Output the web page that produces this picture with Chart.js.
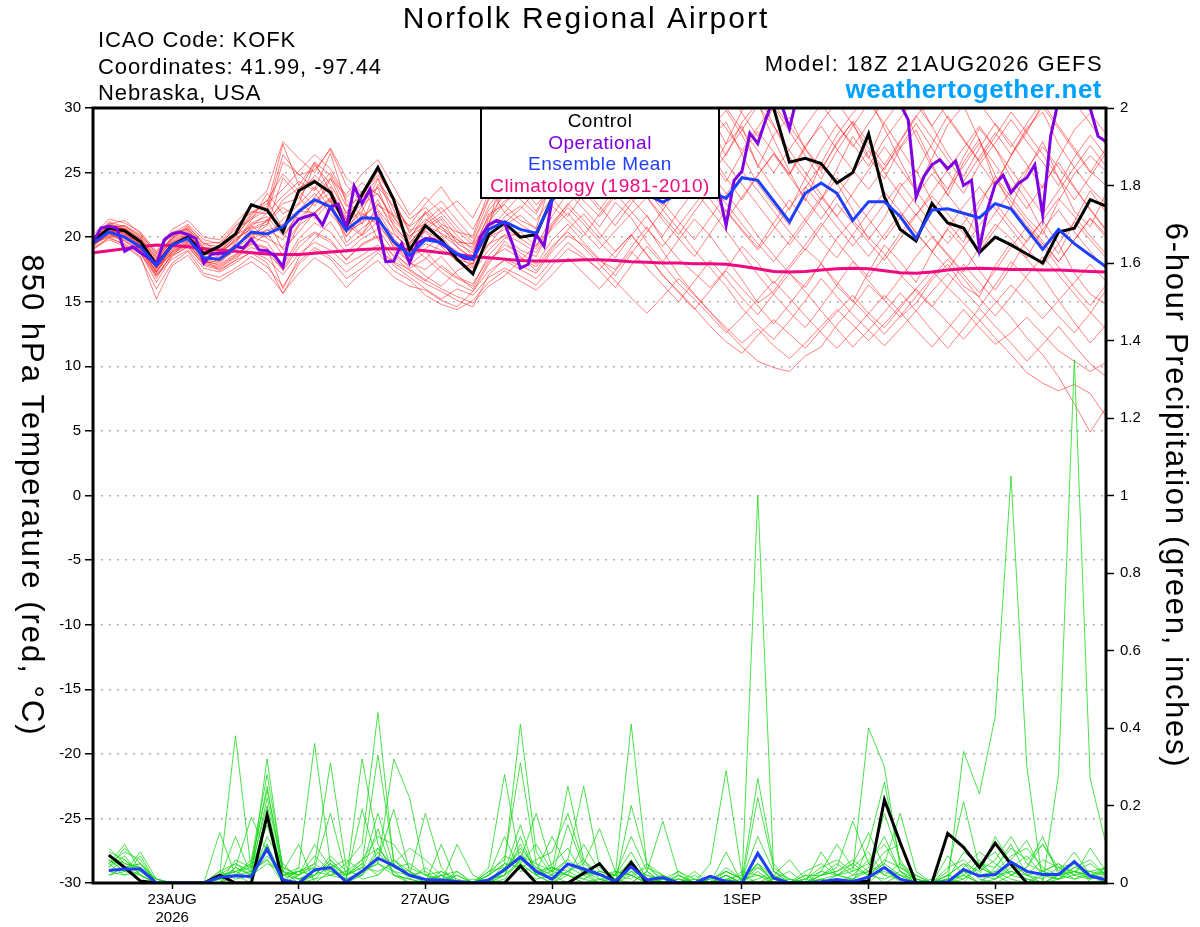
<!DOCTYPE html>
<html>
<head>
<meta charset="utf-8">
<script src="https://cdn.jsdelivr.net/npm/chart.js@4.4.1/dist/chart.umd.min.js"></script>
<style>
  html, body { margin: 0; padding: 0; background: #fff; }
  #wrap { width: 1200px; height: 927px; }
</style>
</head>
<body>
<div id="wrap"><canvas id="chart"></canvas></div>
<script>
// forecast hours from the 18Z 21AUG2026 run
const tempHours = Array.from({length: 65}, (_, i) => i * 6);
const operHours = Array.from({length: 129}, (_, i) => i * 3);
const precipHours = Array.from({length: 64}, (_, i) => (i + 1) * 6);

const tickHours = [30, 78, 126, 174, 246, 294, 342];
const tickLabels = [['23AUG', '2026'], '25AUG', '27AUG', '29AUG', '1SEP', '3SEP', '5SEP'];
const precipTickLabels = ['0', '0.2', '0.4', '0.6', '0.8', '1', '1.2', '1.4', '1.6', '1.8', '2'];

const infoLines = ['ICAO Code: KOFK', 'Coordinates: 41.99, -97.44', 'Nebraska, USA'];
const legendItems = ['Control', 'Operational', 'Ensemble Mean', 'Climatology (1981-2010)'];

// 850 hPa temperature, 6-hourly
const controlTemp = [
  19.65, 20.7, 20.5, 19.65, 17.85, 19.4, 20.0, 18.7, 19.3, 20.25, 22.5, 22.1, 20.4,
  23.6, 24.3, 23.45, 20.8, 23.3, 25.4, 22.9, 19.0, 20.9, 19.8, 18.3, 17.15, 20.2,
  21.1, 20.0, 20.2, 23.0, 25.5, 26.5, 27.0, 26.5, 27.5, 28.0, 27.0, 28.5, 29.0,
  30.5, 31.5, 32.0, 31.0, 30.0, 25.8, 26.1, 25.7, 24.2, 25.0, 28.0, 23.1, 20.6,
  19.7, 22.6, 21.1, 20.7, 18.8, 20.0, 19.4, 18.7, 18.0, 20.4, 20.7, 22.9, 22.4
];
const meanTemp = [
  19.55, 20.4, 20.0, 19.25, 17.8, 19.4, 19.9, 18.4, 18.3, 19.25, 20.4, 20.25, 20.8,
  22.0, 22.9, 22.35, 20.55, 21.5, 21.45, 19.65, 18.6, 19.8, 19.6, 18.7, 18.3, 20.6,
  21.2, 20.6, 20.3, 22.9, 23.8, 24.2, 24.0, 23.5, 23.4, 23.3, 22.7, 23.4, 23.8,
  23.5, 23.0, 24.6, 24.4, 22.8, 21.2, 23.4, 24.2, 23.4, 21.3, 22.75, 22.75, 21.6,
  19.9, 22.1, 22.2, 21.85, 21.5, 22.6, 22.2, 20.6, 19.05, 20.6, 19.5, 18.6, 17.7
];
const climoTemp = [
  18.8, 18.95, 19.1, 19.25, 19.4, 19.35, 19.25, 19.1, 19.0, 18.9, 18.8, 18.7, 18.65,
  18.65, 18.75, 18.85, 18.95, 19.05, 19.1, 19.1, 19.05, 18.95, 18.8, 18.65, 18.5, 18.4,
  18.3, 18.2, 18.15, 18.15, 18.2, 18.25, 18.25, 18.2, 18.1, 18.05, 18.0, 18.0, 17.95,
  17.95, 17.9, 17.75, 17.55, 17.35, 17.3, 17.35, 17.45, 17.55, 17.6, 17.55, 17.4, 17.25,
  17.2, 17.3, 17.45, 17.55, 17.6, 17.55, 17.5, 17.5, 17.45, 17.45, 17.4, 17.35, 17.3
];
// operational run, 3-hourly
const operTemp = [
  19.65, 20.7, 20.85, 20.7, 18.9, 19.25, 18.8, 18.4, 17.85, 19.8, 20.25, 20.4, 20.2, 19.9, 18.0,
  18.7, 18.75, 18.75, 19.3, 19.15, 19.85, 19.0, 18.95, 18.55, 17.7, 20.7, 21.4, 21.6, 21.8, 20.95,
  22.35, 22.55, 20.7, 23.95, 22.6, 23.7, 21.0, 18.1, 18.15, 19.5, 18.0, 19.55, 19.9, 19.85, 19.5,
  19.1, 18.7, 18.35, 18.3, 20.05, 20.95, 21.3, 21.1, 19.5, 17.6, 17.9, 20.2, 19.3, 22.9,
  24.5, 25.5, 26.0, 26.5, 27.0, 26.5, 26.0, 26.5, 27.0, 27.5, 27.0, 26.5, 26.0, 25.5, 25.5,
  26.0, 25.5, 25.0, 24.5, 24.0,
  23.65, 20.9, 24.4, 25.1, 28.05, 27.25, 29.1, 30.8, 30.3, 28.4, 31.0, 31.5, 32.0, 31.8, 32.2,
  31.5, 31.0, 31.6, 32.0, 31.4, 30.9, 31.2, 30.8, 30.3, 29.1,
  23.1, 24.7, 25.6, 26.0, 25.3, 25.9, 24.0, 24.4, 19.1, 22.1, 24.1, 24.8, 23.45, 24.2, 24.6,
  25.6, 21.7, 27.8, 30.6, 31.5, 31.2, 30.7, 30.0, 27.8, 27.4
];
// ensemble members, 6-hourly
const memberTemps = [
  [19.8,20.9,20.6,19.5,18.2,19.9,20.6,19.0,18.8,20.1,21.5,22.4,27.2,
   24.0,25.8,23.5,21.4,23.0,24.6,22.1,19.5,20.5,19.7,18.9,17.9,21.5,
   22.8,23.5,24.9,26.3,27.8,28.4,29.6,28.0,30.5,29.2,27.1,28.8,30.9,
   29.5,27.2,28.6,25.4,27.9,29.3,26.8,25.1,27.4,28.9,26.2,24.5,26.9,
   28.3,25.7,23.2,25.8,27.6,24.1,26.3,28.5,29.7,27.2,25.4,23.8,22.6],
  [19.3,20.2,19.8,19.0,17.1,18.6,19.2,17.9,17.6,18.4,19.2,18.8,17.5,
   19.6,20.4,19.8,18.2,19.5,20.1,18.0,17.2,16.4,15.8,15.1,14.6,17.1,
   18.3,17.8,17.2,18.9,20.1,19.4,18.2,17.5,19.2,20.8,18.9,17.1,15.6,
   14.2,12.8,11.5,10.4,9.9,9.6,10.8,11.5,13.2,14.6,16.3,15.1,13.8,
   14.9,16.7,17.9,16.2,15.4,17.8,19.6,18.3,16.9,15.1,13.4,11.8,13.2],
  [19.7,20.5,20.3,19.6,17.5,19.3,20.3,18.8,18.6,19.9,20.6,21.0,22.9,
   23.8,24.5,22.7,20.1,21.3,22.9,20.4,18.9,20.6,21.4,19.5,18.8,21.8,
   22.5,21.3,20.7,24.6,26.2,25.1,23.8,25.6,27.4,26.1,24.3,23.0,25.5,
   27.8,28.9,26.4,24.1,22.5,20.9,23.8,25.6,24.2,22.1,19.8,21.5,23.9,
   25.2,22.8,21.1,19.6,22.4,24.7,23.1,21.5,20.2,22.8,24.9,26.3,25.1],
  [19.5,20.1,19.7,18.9,16.8,18.8,19.5,18.1,17.9,18.7,19.5,19.1,16.0,
   18.4,19.9,21.2,19.3,20.2,21.8,19.1,18.1,17.0,16.2,17.4,18.0,19.5,
   20.1,19.0,18.5,20.8,22.3,21.0,19.6,18.4,20.1,21.7,19.8,18.3,17.2,
   16.1,17.5,19.3,18.0,16.4,17.8,19.4,21.1,19.6,18.2,16.9,18.5,20.3,
   21.8,20.1,18.7,17.3,19.2,21.0,19.9,18.4,20.6,22.1,20.4,18.9,17.5],
  [19.9,21.2,20.8,20.1,18.6,20.0,20.9,19.4,19.3,20.8,22.0,21.8,25.8,
   24.9,23.7,26.5,22.6,21.0,24.1,22.9,20.3,22.0,20.8,19.9,18.5,20.9,
   25.6,24.2,22.5,23.8,26.9,28.2,27.0,29.4,30.6,28.8,26.7,29.1,31.2,
   28.5,26.3,28.9,30.4,27.6,25.1,22.8,25.7,27.9,29.6,31.0,28.4,25.9,
   23.6,26.1,28.7,30.2,27.5,24.8,22.3,25.1,27.4,24.6,22.0,20.8,23.4],
  [19.4,20.6,20.4,19.3,17.4,19.1,19.7,18.5,18.1,19.0,20.9,19.9,19.2,
   21.0,22.8,23.9,20.5,22.4,19.8,18.6,17.8,18.9,17.6,16.8,16.2,18.6,
   19.9,20.4,19.3,21.6,23.5,22.2,20.8,22.7,21.5,19.6,18.1,19.8,21.4,
   20.1,18.4,16.7,14.9,15.8,17.6,19.1,18.0,16.2,15.0,17.3,19.4,18.1,
   16.5,18.8,20.6,19.2,17.4,15.9,17.7,19.8,21.3,19.5,17.2,15.6,14.8],
  [19.6,20.8,20.2,19.4,17.9,19.6,20.1,18.6,18.9,19.6,21.3,23.4,21.8,
   22.6,25.6,24.1,21.9,23.6,22.1,20.6,19.4,21.2,22.3,20.8,19.6,22.4,
   24.1,23.5,22.0,24.3,25.8,27.3,25.9,24.1,26.8,28.5,30.2,28.1,26.4,
   24.9,27.3,29.8,31.1,28.7,26.2,24.5,22.9,25.3,27.8,26.1,28.9,30.6,
   27.8,25.4,23.7,26.2,28.4,26.9,24.6,22.8,20.5,18.7,21.2,23.6,21.9],
  [19.2,19.9,19.5,18.7,17.0,18.3,19.0,17.6,17.3,18.0,18.9,18.3,17.1,
   18.7,19.6,19.0,17.9,18.6,19.4,17.8,16.9,16.0,15.2,16.0,15.5,16.9,
   17.6,17.0,16.3,17.8,19.1,18.4,17.5,18.9,20.2,18.7,17.0,15.8,14.5,
   13.1,11.9,11.0,12.4,13.6,12.5,11.4,12.8,14.2,15.5,14.1,13.0,14.5,
   16.0,17.4,16.1,14.9,13.6,12.2,10.9,9.5,8.7,8.1,8.6,7.9,6.1],
  [19.8,20.7,20.9,20.0,18.4,19.7,20.4,19.1,18.5,19.4,20.1,20.9,24.6,
   23.2,21.4,22.8,21.0,20.1,21.2,20.2,19.2,20.4,19.3,18.1,17.6,19.9,
   21.6,22.4,21.3,23.1,24.9,23.6,22.1,23.8,25.1,23.9,22.4,24.6,26.3,
   25.0,23.4,21.8,20.1,18.6,17.2,16.1,18.0,19.9,21.3,20.0,18.7,17.1,
   15.8,14.6,16.2,17.9,16.5,15.1,13.8,12.2,10.9,9.2,7.1,4.9,6.8],
  [19.5,20.4,20.1,19.2,17.6,19.0,19.8,18.3,18.0,19.2,20.3,20.0,21.4,
   22.5,23.9,22.2,20.0,21.8,21.1,19.3,18.4,19.5,19.0,18.3,17.9,20.6,
   21.9,21.0,20.2,22.7,24.2,25.6,24.3,22.9,24.5,26.0,24.8,26.7,28.1,
   26.5,24.6,22.9,24.8,26.5,24.9,27.1,28.6,26.8,25.2,23.7,25.4,27.0,
   28.8,26.9,25.0,23.4,25.6,27.3,29.1,27.4,25.8,24.0,26.2,27.9,26.3],
  [19.6,20.3,20.5,19.7,18.0,19.5,20.2,18.9,18.4,19.5,21.1,21.6,20.1,
   21.8,23.1,24.6,21.8,22.9,23.8,20.8,19.6,20.8,21.6,20.1,19.0,21.2,
   22.6,23.8,24.7,26.1,24.5,22.8,21.6,23.2,24.8,23.1,21.3,19.9,18.5,
   20.3,22.1,20.6,19.2,21.1,22.9,21.3,19.7,18.4,20.2,21.9,23.5,22.0,
   20.3,18.9,20.7,22.4,23.9,22.2,20.6,19.1,17.8,19.5,21.2,19.8,18.4],
  [19.3,20.5,20.0,19.1,17.3,18.9,19.6,18.2,17.8,18.6,19.4,20.3,18.6,
   20.9,21.8,22.9,19.6,20.7,21.6,19.5,18.0,17.5,18.5,17.1,16.0,18.1,
   19.4,18.8,17.9,19.8,21.0,19.6,18.3,17.0,18.7,20.4,22.1,20.6,19.0,
   17.6,16.2,14.5,13.2,12.1,13.5,15.1,16.8,15.4,14.0,12.8,11.6,12.9,
   14.3,15.8,17.2,15.9,14.6,16.3,18.1,16.8,15.3,13.9,12.6,14.1,15.9],
  [20.0,21.0,20.7,19.9,18.3,20.1,20.7,19.2,19.0,20.3,21.8,22.6,23.7,
   25.1,26.4,25.3,23.1,24.2,23.3,21.5,20.0,21.4,20.6,19.8,19.2,21.6,
   23.3,24.6,25.8,27.2,28.6,27.1,25.6,27.9,29.3,27.6,25.8,24.1,26.2,
   28.4,29.8,27.9,25.6,23.8,22.1,24.6,26.8,28.7,27.2,25.5,27.6,29.2,
   30.8,28.6,26.4,24.7,26.9,28.8,27.3,25.6,23.8,26.1,28.3,29.6,28.0],
  [19.4,20.2,19.9,19.3,17.7,18.7,19.4,18.0,18.2,19.1,20.0,19.6,17.8,
   19.9,21.1,20.4,18.8,19.9,20.6,18.9,17.6,18.3,19.6,18.4,17.3,19.0,
   20.2,19.6,18.8,20.9,22.6,21.3,19.9,21.5,23.0,21.6,20.1,22.0,23.6,
   22.1,20.5,18.8,17.1,15.6,14.2,13.0,14.6,16.3,18.1,16.6,15.2,16.8,
   18.5,20.0,18.6,17.1,15.7,17.4,19.2,20.8,19.3,17.7,16.1,14.7,16.3],
  [19.7,20.6,20.4,19.6,17.8,19.2,20.0,18.7,18.7,19.8,20.7,21.2,22.3,
   21.4,22.7,23.4,21.2,22.0,24.5,21.6,19.8,21.9,20.2,19.3,18.2,20.3,
   21.1,22.2,23.6,25.4,27.1,28.6,30.3,29.1,27.5,29.6,31.4,29.8,27.9,
   26.0,24.3,26.5,28.2,26.6,24.8,26.9,28.9,30.5,28.7,26.9,25.2,27.4,
   29.3,31.1,29.2,27.5,25.8,24.0,26.3,28.1,30.4,28.6,26.9,25.1,24.0],
  [19.5,20.0,20.2,19.5,17.2,19.4,19.9,18.4,18.3,18.9,19.8,20.6,19.8,
   22.1,23.4,21.8,20.4,21.1,22.0,19.9,18.6,19.8,20.9,19.2,18.4,20.0,
   20.6,19.9,19.1,21.1,22.5,23.8,22.4,20.9,22.6,24.1,22.7,21.2,19.8,
   21.5,23.3,25.1,23.6,22.0,20.4,19.0,20.8,22.6,21.1,19.6,18.2,19.9,
   21.7,23.2,21.8,20.3,18.9,20.6,22.4,20.9,19.5,18.1,19.8,21.5,20.2],
  [19.9,20.8,20.9,20.2,18.8,20.3,21.0,19.8,19.5,20.6,21.4,22.1,26.4,
   24.8,25.2,26.8,24.0,22.7,23.9,22.4,20.8,21.8,22.8,21.3,19.9,22.9,
   24.0,25.3,24.1,25.9,27.6,26.2,28.7,30.1,28.4,26.5,28.2,29.9,28.3,
   30.6,31.5,29.6,27.8,30.1,28.2,26.3,24.5,26.7,28.6,30.4,28.8,26.9,
   25.0,27.2,29.4,27.6,25.9,27.8,29.7,28.1,26.4,24.6,22.9,24.7,26.5],
  [19.4,20.3,19.7,18.8,16.5,18.5,19.3,17.8,17.5,18.2,18.8,18.0,15.6,
   17.9,19.0,18.3,16.8,17.6,18.8,17.4,16.7,15.5,14.8,14.4,15.1,16.5,
   17.4,16.6,15.9,17.1,18.4,17.2,16.0,17.4,18.9,17.6,16.3,15.0,16.6,
   18.2,16.8,15.3,14.0,15.6,17.2,15.8,14.3,12.9,11.5,12.8,14.2,15.7,
   14.3,12.8,11.4,12.9,14.5,13.1,11.8,10.4,11.7,13.1,11.6,10.2,9.2],
  [19.6,20.5,20.3,19.4,17.6,19.2,19.9,18.4,18.2,19.3,20.2,20.5,21.0,
   22.0,21.9,23.0,20.8,21.9,20.9,19.5,18.5,19.1,20.1,18.6,17.7,19.4,
   20.9,21.7,20.6,22.4,21.3,20.1,21.8,23.4,22.0,20.6,19.3,20.9,22.5,
   24.1,22.6,21.0,19.5,18.1,19.7,21.4,23.1,21.6,20.0,18.5,20.2,21.9,
   20.4,18.9,17.5,19.2,20.9,22.6,21.1,19.6,21.3,23.0,21.6,20.1,18.7],
  [19.8,21.1,20.6,19.9,18.1,19.8,20.5,19.2,18.9,20.0,21.7,22.9,20.6,
   23.5,25.8,24.8,22.4,23.1,25.1,22.8,20.5,21.0,21.9,20.5,19.4,21.0,
   23.8,22.9,21.8,24.0,25.3,26.8,25.5,27.3,25.9,24.2,26.4,27.9,26.3,
   24.6,26.5,28.3,30.2,28.6,26.7,25.0,23.3,21.6,23.4,25.2,27.0,25.3,
   23.6,21.9,23.7,25.5,27.3,25.6,23.9,22.2,24.0,25.8,23.9,22.1,20.5],
  [19.0,20.0,19.4,18.5,15.2,17.8,18.6,17.0,16.6,17.4,18.1,17.2,15.7,
   17.2,18.4,17.6,16.1,17.3,18.2,16.9,16.2,15.9,15.1,14.6,15.8,17.4,
   18.2,17.5,16.8,18.2,19.6,18.6,17.4,16.1,17.8,19.3,17.9,16.4,15.2,
   13.9,12.6,13.8,15.2,16.6,15.3,13.9,12.6,11.4,12.7,14.1,15.5,14.2,
   12.8,11.5,12.9,14.4,13.0,11.7,12.6,13.8,12.5,11.2,10.4,9.6,10.3],
  [20.2,21.4,21.1,20.4,18.9,20.6,21.3,20.0,19.8,21.1,22.4,23.6,27.4,
   26.1,25.0,26.9,24.6,23.4,24.8,23.1,21.4,22.3,21.0,20.4,20.1,23.5,
   26.2,27.4,28.5,29.7,31.0,29.4,27.8,29.6,31.3,29.7,28.0,26.4,28.3,
   30.1,28.4,26.7,28.5,30.3,28.6,26.9,25.3,27.2,29.0,27.3,25.6,27.5,
   29.4,27.7,26.0,24.3,26.2,28.1,26.4,28.3,30.1,28.4,26.7,25.0,26.9],
  [19.5,20.7,20.1,19.1,17.0,18.6,19.7,18.3,17.4,18.2,19.9,21.4,19.0,
   20.4,21.9,23.1,21.4,20.2,22.6,21.0,19.4,18.4,17.3,16.4,15.8,17.9,
   19.7,18.5,17.4,19.1,20.6,21.8,20.3,18.9,20.2,18.6,17.1,15.7,14.4,
   15.9,17.4,16.0,14.7,13.3,14.8,16.4,17.9,16.5,15.1,13.8,12.5,13.9,
   15.4,16.9,18.3,16.8,15.3,13.9,15.4,17.0,18.5,17.1,15.6,14.2,12.9],
  [19.9,20.4,20.7,19.8,18.5,19.9,20.8,19.6,18.9,20.2,20.8,21.9,23.2,
   24.3,23.6,25.0,22.9,21.6,22.5,21.7,20.9,22.6,23.9,22.1,20.6,23.0,
   24.9,26.1,25.0,26.7,28.2,29.6,28.1,26.5,28.0,29.5,27.8,26.1,24.5,
   22.9,21.3,23.1,24.8,26.4,24.7,23.0,21.4,23.2,25.0,26.7,25.0,23.3,
   21.7,23.5,25.2,26.9,28.6,26.9,25.2,23.5,21.8,23.6,25.4,27.1,25.5],
  [19.1,19.8,19.3,18.4,16.0,18.0,18.9,17.2,16.9,17.6,18.5,17.7,16.2,
   18.1,19.2,18.5,17.3,18.2,19.0,18.1,17.5,16.7,16.0,15.4,14.9,16.2,
   17.0,18.2,19.4,20.6,21.9,20.4,19.1,20.5,21.8,23.1,21.6,20.2,22.0,
   23.6,22.0,20.5,19.0,20.6,22.3,23.9,22.4,20.8,19.3,20.9,22.6,24.2,
   22.6,21.0,19.5,21.1,22.8,24.4,22.8,21.2,19.7,18.1,19.8,21.4,20.0],
  [19.7,21.0,21.3,20.3,18.7,20.4,20.6,19.5,19.6,20.9,21.9,22.8,24.9,
   23.6,22.4,24.5,23.3,24.9,26.0,23.9,21.7,23.1,21.9,22.8,21.5,23.9,
   21.9,23.3,24.6,23.0,21.6,23.4,25.1,26.8,25.2,23.7,22.1,23.9,25.6,
   27.3,25.7,24.1,22.5,20.9,19.4,21.1,22.9,24.6,23.0,21.4,19.8,21.5,
   23.2,24.9,23.3,21.7,20.1,21.9,23.6,25.3,27.0,25.4,23.8,22.2,20.6],
  [19.4,20.4,20.0,19.0,17.3,18.9,19.5,18.0,17.7,18.5,19.6,19.2,17.4,
   19.2,20.3,19.6,18.3,19.4,20.0,18.5,17.4,16.6,17.8,16.9,16.4,18.3,
   19.1,18.4,17.7,19.3,20.4,19.2,17.9,16.6,15.3,14.1,15.4,16.8,15.5,
   14.2,13.0,11.8,12.9,11.6,10.6,11.8,13.1,14.4,13.2,12.0,13.3,14.7,
   16.0,14.7,13.4,12.1,13.5,14.9,16.3,15.0,13.7,15.1,16.5,17.9,16.6],
  [19.8,20.6,20.4,19.7,18.1,19.6,20.3,18.9,18.8,19.7,21.0,21.3,22.6,
   23.0,24.8,23.6,21.6,22.5,23.4,21.2,20.1,20.9,20.3,19.6,19.5,22.1,
   23.5,24.9,26.3,27.7,26.2,24.8,26.5,28.2,29.9,31.5,29.8,28.2,29.9,
   31.6,30.0,28.3,26.7,25.0,26.8,28.6,30.3,28.7,27.0,28.8,30.6,32.0,
   30.3,28.6,30.4,32.1,30.4,28.7,27.0,28.8,30.6,32.2,30.5,28.8,27.1]
];

// 6-hour precipitation (inches), valid 6..384 h
const controlPrecip = [
  0.072, 0.04, 0.005, 0, 0, 0, 0, 0.02, 0, 0, 0.175, 0, 0, 0, 0, 0,
  0, 0, 0, 0, 0, 0, 0, 0, 0, 0, 0.044, 0, 0, 0, 0.025, 0.05,
  0, 0.053, 0, 0, 0, 0, 0, 0, 0, 0, 0, 0, 0, 0, 0.003, 0.004,
  0.005, 0.215, 0.104, 0, 0, 0.128, 0.092, 0.04, 0.103, 0.048, 0, 0, 0, 0, 0, 0
];
const meanPrecip = [
  0.032, 0.036, 0.036, 0, 0, 0, 0, 0.015, 0.019, 0.017, 0.088, 0.008, 0, 0.034, 0.04, 0.003,
  0.03, 0.064, 0.045, 0.02, 0.009, 0.008, 0.004, 0, 0.008, 0.034, 0.067, 0.03, 0.01, 0.049, 0.036, 0.022,
  0.004, 0.042, 0.008, 0.014, 0, 0, 0.017, 0.004, 0, 0.077, 0.013, 0, 0, 0.003, 0.009, 0.004,
  0.015, 0.04, 0.01, 0, 0, 0.003, 0.035, 0.018, 0.022, 0.054, 0.03, 0.022, 0.022, 0.055, 0.018, 0.008
];
const precipMembers = [
  [0.06,0.04,0.02,0,0,0,0,0.13,0.02,0,0.1,0,0.04,0.36,0.05,0,
   0.02,0.08,0.03,0,0,0,0,0,0.03,0.06,0.31,0.05,0,0.02,0,0,
   0,0,0.03,0.16,0.02,0,0,0,0.01,0.05,0,0,0,0.02,0.03,0.05,
   0.13,0.04,0,0,0,0.02,0.05,0.01,0,0.02,0.04,0.1,0.03,0.08,0.02,0],
  [0.08,0.06,0.03,0.01,0,0,0,0.02,0.38,0.03,0.06,0,0,0.02,0.06,0.01,
   0.32,0.1,0.02,0,0,0.1,0,0,0,0.02,0.1,0.03,0.12,0.04,0.02,0,
   0,0.03,0,0,0,0,0.05,0.29,0.02,0,0.01,0.03,0,0,0,0,
   0.1,0.26,0.05,0,0,0,0.01,0.04,0.02,0,0,0.03,0.05,0.02,0.09,0.03],
  [0.04,0.09,0.05,0,0,0,0,0.01,0.12,0.02,0.05,0.03,0.1,0,0.03,0.02,
   0.05,0.33,0.06,0.02,0,0,0.02,0,0,0.04,0.08,0.02,0.03,0.25,0.06,0.01,
   0,0.02,0,0.01,0.03,0,0,0.08,0,0,0.02,0.06,0.01,0,0,0.01,
   0.04,0.18,0.06,0,0,0,0.02,0.06,0.01,0.03,0.02,0.01,0.04,0.01,0.02,0.04],
  [0.02,0.03,0.08,0.01,0,0,0,0,0.04,0.17,0.08,0,0.02,0.05,0.31,0.04,
   0.01,0.02,0.06,0.03,0,0.03,0,0,0.01,0.03,0.15,0.02,0,0.05,0.03,0,
   0.02,0.41,0.04,0.01,0,0,0.02,0,0,0.03,0,0,0.02,0,0.01,0,
   0.02,0.05,0.18,0.03,0,0,0.03,0,0.01,0.05,0.02,0,0.01,0.03,0.01,0.04],
  [0.07,0.05,0.04,0,0,0,0,0.03,0.05,0.02,0.32,0.03,0,0.01,0.02,0.05,
   0.1,0.44,0.05,0.01,0,0.02,0,0,0,0.02,0.05,0.1,0.03,0.02,0,0.01,
   0,0.2,0.05,0,0.01,0,0,0.02,0,0.01,0.03,0,0,0.01,0,0,
   0.02,0.03,0.01,0,0,0.07,0.02,0,0.03,0.01,0,0.02,0.01,0.06,0,0.01],
  [0.05,0.1,0.03,0,0,0,0,0,0.02,0.06,0.28,0.04,0.02,0.1,0.04,0,
   0.03,0.05,0.32,0.22,0.02,0,0,0.01,0,0.05,0.04,0.01,0.02,0.15,0.04,0.02,
   0.01,0.06,0,0,0.02,0,0,0.01,0,1.0,0.03,0,0,0,0.02,0.01,
   0,0.04,0.02,0,0,0.01,0,0.05,0.08,0.02,0.01,0,0.02,0.05,0.01,0.02],
  [0.03,0.02,0.07,0,0,0,0,0.01,0.03,0.05,0.25,0.02,0.03,0.04,0.18,0.02,
   0.05,0.02,0.06,0.02,0.01,0,0.1,0.02,0,0.01,0.06,0.03,0.04,0.02,0.1,0.03,
   0.02,0.01,0.05,0.02,0,0,0.01,0.03,0.01,0.27,0.05,0,0,0.01,0,0.02,
   0.03,0,0.02,0.01,0,0,0.34,0.23,0.43,1.05,0.3,0,0.02,0.01,0.03,0.02],
  [0.04,0.07,0.02,0,0,0,0,0,0.06,0.04,0.2,0.01,0,0.02,0.07,0.03,
   0.02,0.06,0.19,0.03,0,0.02,0,0,0.04,0.28,0.05,0.02,0,0.03,0.01,0,
   0.03,0.02,0,0.01,0,0.02,0,0,0.03,0.02,0,0,0.01,0.03,0.1,0.04,
   0.02,0.01,0.03,0,0,0.02,0.01,0.05,0.02,0.03,0.01,0,0.28,1.35,0.27,0.1],
  [0.02,0.04,0.05,0,0,0,0,0.02,0.03,0.01,0.12,0.05,0.01,0.03,0.02,0.01,
   0.19,0.05,0.02,0.01,0,0,0.03,0,0.02,0.05,0.41,0.08,0.02,0,0.03,0.02,
   0.01,0,0.03,0,0.01,0,0,0.02,0,0.04,0.01,0,0,0.08,0.02,0.01,
   0.03,0.05,0.02,0,0.01,0,0.03,0.02,0.12,0.05,0.02,0.06,0.04,0.03,0.02,0.01],
  [0.06,0.03,0.04,0,0,0,0,0,0.02,0.03,0.06,0.02,0.04,0.01,0.05,0.02,
   0.04,0.18,0.04,0.02,0.03,0,0,0,0.02,0.12,0.03,0.04,0.01,0.03,0.05,0.14,
   0.03,0.02,0,0,0,0.03,0,0.02,0,0.05,0,0.01,0,0.02,0.04,0.16,
   0.05,0.02,0.01,0,0,0.01,0.02,0,0.04,0.1,0.02,0.03,0.01,0.04,0.03,0],
  [0.03,0.06,0.02,0,0,0,0,0.01,0.04,0.02,0.07,0.03,0.02,0.04,0.03,0.01,
   0.03,0.05,0.03,0.02,0.18,0.04,0,0,0.01,0.02,0.06,0.18,0.04,0.02,0.01,0.03,
   0.02,0.12,0.03,0,0,0.01,0,0.03,0.01,0.02,0.01,0,0.03,0.05,0.02,0.03,
   0.4,0.3,0.04,0.01,0,0,0.03,0.02,0.01,0.04,0.07,0.02,0.01,0.02,0.01,0.03],
  [0.05,0.02,0.03,0,0,0,0,0.02,0.03,0.04,0.15,0.02,0.03,0.05,0.02,0.03,
   0.06,0.09,0.04,0.05,0.02,0.01,0.02,0,0.03,0.04,0.07,0.05,0.03,0.06,0.25,0.04,
   0.01,0.03,0.02,0,0.03,0.01,0,0.01,0,0.22,0.04,0.01,0,0.02,0.05,0.02,
   0.06,0.1,0.03,0.01,0,0.03,0.21,0.04,0.02,0.06,0.11,0.03,0.02,0.03,0.05,0.02],
  [0.09,0.05,0.04,0.01,0,0,0,0,0.04,0.02,0.18,0.02,0.01,0.03,0.05,0.02,
   0.04,0.03,0.05,0.09,0.06,0.02,0,0,0,0.03,0.09,0.04,0.02,0.06,0.03,0.01,
   0.02,0.05,0.01,0,0.02,0,0,0.04,0.01,0.05,0.02,0,0.01,0.04,0.06,0.03,
   0.05,0.12,0.03,0,0,0.04,0.06,0.02,0.03,0.07,0.09,0.04,0.02,0.03,0.02,0.01],
  [0.05,0.08,0.06,0,0,0,0,0.01,0.02,0.05,0.24,0.04,0.02,0.07,0.03,0.01,
   0.02,0.09,0.04,0.03,0.01,0.02,0.03,0,0.02,0.05,0.04,0.06,0.08,0.18,0.05,0.02,
   0.01,0.04,0.02,0.01,0.01,0,0,0.02,0,0.07,0.01,0,0,0.03,0.02,0.04,
   0.08,0.02,0.05,0.02,0,0,0.04,0.08,0.05,0.02,0.04,0.12,0.02,0.04,0.06,0.02],
  [0.06,0.03,0.02,0,0,0,0,0.03,0.01,0.02,0.1,0.01,0.03,0.02,0.04,0.06,
   0.03,0.14,0.02,0.01,0.04,0.01,0,0,0.01,0.02,0.12,0.02,0.05,0.09,0.02,0.03,
   0.02,0.08,0.01,0.02,0,0.01,0,0.01,0.02,0.04,0.02,0,0.02,0.02,0.03,0.06,
   0.03,0.08,0.1,0.01,0,0.02,0.05,0.03,0.06,0.12,0.05,0.03,0.05,0.02,0.03,0.04],
  [0.07,0.04,0.05,0.01,0,0,0,0.02,0.05,0.03,0.22,0.03,0.01,0.02,0.06,0.02,
   0.06,0.12,0.1,0.04,0.02,0.03,0.01,0,0.02,0.07,0.05,0.02,0.04,0.03,0.06,0.02,
   0.03,0.02,0.04,0.02,0,0,0.01,0.03,0.01,0.12,0.03,0.01,0,0.01,0.02,0.05,
   0.02,0.06,0.04,0.02,0,0.01,0.08,0.05,0.04,0.09,0.06,0.1,0.04,0.05,0.02,0.03]
];

const FONT = '"Liberation Sans", Arial, Helvetica, sans-serif';
const colors = {
  member: 'rgba(255, 20, 20, 0.6)',
  precip: 'rgba(20, 215, 20, 0.85)',
  control: '#000000',
  oper: '#7f00e0',
  mean: '#1f3fff',
  climo: '#ee0a80',
  site: '#00a0ff'
};

const pts = (hours, vals) => vals.map((v, i) => ({x: hours[i], y: v}));

const datasets = [];
// thick lines first so they are drawn on top
datasets.push({label: 'mean precip', data: pts(precipHours, meanPrecip), yAxisID: 'y2',
  borderColor: colors.mean, borderWidth: 3, order: 1});
datasets.push({label: 'control precip', data: pts(precipHours, controlPrecip), yAxisID: 'y2',
  borderColor: colors.control, borderWidth: 3, order: 2});
datasets.push({label: 'Ensemble Mean', data: pts(tempHours, meanTemp), yAxisID: 'y',
  borderColor: colors.mean, borderWidth: 3, order: 1});
datasets.push({label: 'Operational', data: pts(operHours, operTemp), yAxisID: 'y',
  borderColor: colors.oper, borderWidth: 3, order: 2});
datasets.push({label: 'Control', data: pts(tempHours, controlTemp), yAxisID: 'y',
  borderColor: colors.control, borderWidth: 3, order: 3});
datasets.push({label: 'Climatology', data: pts(tempHours, climoTemp), yAxisID: 'y',
  borderColor: colors.climo, borderWidth: 3, order: 4});
precipMembers.forEach((m, n) => datasets.push({label: 'precip ' + n, data: pts(precipHours, m),
  yAxisID: 'y2', borderColor: colors.precip, borderWidth: 0.9, order: 5}));
memberTemps.forEach((m, n) => datasets.push({label: 'member ' + n, data: pts(tempHours, m),
  yAxisID: 'y', borderColor: colors.member, borderWidth: 0.9, order: 6}));
datasets.forEach(d => { d.clip = 0; d.pointRadius = 0; d.tension = 0; d.fill = false; });

// titles, header text, legend box and frame
const decor = {
  id: 'decor',
  afterDraw(chart) {
    const ctx = chart.ctx;
    const a = chart.chartArea;
    ctx.save();
    ctx.fillStyle = '#000';
    ctx.textBaseline = 'alphabetic';

    ctx.letterSpacing = '2px';
    ctx.font = '30px ' + FONT;
    ctx.textAlign = 'center';
    ctx.fillText('Norfolk Regional Airport', 586, 28);

    ctx.letterSpacing = '0.9px';
    ctx.font = '22px ' + FONT;
    ctx.textAlign = 'left';
    infoLines.forEach((t, i) => ctx.fillText(t, 98, 47 + i * 26.5));

    ctx.textAlign = 'right';
    ctx.letterSpacing = '1.4px';
    ctx.fillText('Model: 18Z 21AUG2026 GEFS', 1103, 71);
    ctx.letterSpacing = '0.5px';
    ctx.font = 'bold 26px ' + FONT;
    ctx.fillStyle = colors.site;
    ctx.fillText('weathertogether.net', 1102, 98);

    // axis titles, reading top to bottom
    const midY = (a.top + a.bottom) / 2;
    ctx.fillStyle = '#000';
    ctx.font = '31px ' + FONT;
    ctx.textAlign = 'center';
    ctx.textBaseline = 'middle';
    [[31, '850 hPa Temperature (red, \u00B0C)', '2px'], [1175, '6-hour Precipitation (green, inches)', '1.7px']]
      .forEach(([x, t, sp]) => {
        ctx.save();
        ctx.letterSpacing = sp;
        ctx.translate(x, midY);
        ctx.rotate(Math.PI / 2);
        ctx.fillText(t, 0, 0);
        ctx.restore();
      });

    // legend box
    const bx = 481, bw = 238, bh = 90;
    ctx.fillStyle = '#fff';
    ctx.fillRect(bx, a.top, bw, bh);
    ctx.strokeStyle = '#000';
    ctx.lineWidth = 2;
    ctx.strokeRect(bx, a.top, bw, bh);
    ctx.font = '19px ' + FONT;
    ctx.letterSpacing = '0.5px';
    ctx.textBaseline = 'alphabetic';
    const legendColors = [colors.control, colors.oper, colors.mean, colors.climo];
    legendItems.forEach((t, i) => {
      ctx.fillStyle = legendColors[i];
      ctx.fillText(t, bx + bw / 2, a.top + 19 + i * 21.7);
    });

    // plot frame
    ctx.lineWidth = 3;
    ctx.strokeStyle = '#000';
    ctx.strokeRect(a.left, a.top, a.right - a.left, a.bottom - a.top);
    ctx.restore();
  }
};

Chart.defaults.font.family = FONT;
Chart.defaults.font.size = 15;
Chart.defaults.color = '#000';

new Chart(document.getElementById('chart'), {
  type: 'line',
  data: {datasets: datasets},
  options: {
    responsive: true,
    maintainAspectRatio: false,
    animation: false,
    layout: {padding: {top: 108, left: 0, right: 0, bottom: 0}},
    plugins: {legend: {display: false}, tooltip: {enabled: false}},
    scales: {
      x: {
        type: 'linear', min: 0, max: 384,
        afterBuildTicks: axis => { axis.ticks = tickHours.map(v => ({value: v})); },
        afterFit: s => { s.height = 44; },
        ticks: {
          autoSkip: false, maxRotation: 0, padding: 2,
          callback: v => tickLabels[tickHours.indexOf(v)]
        },
        grid: {drawOnChartArea: false, drawTicks: true, tickLength: 6, tickColor: '#000', tickWidth: 1.5},
        border: {display: false}
      },
      y: {
        position: 'left', min: -30, max: 30,
        afterFit: s => { s.width = 93; },
        ticks: {stepSize: 5, padding: 4},
        grid: {color: '#b0b0b0', lineWidth: 1.5, drawTicks: true, tickLength: 8,
          tickColor: '#000', tickWidth: 1.5},
        border: {display: false, dash: [2, 6]}
      },
      y2: {
        position: 'right', min: 0, max: 2,
        afterFit: s => { s.width = 94; },
        ticks: {stepSize: 0.2, padding: 6, callback: v => precipTickLabels[Math.round(v * 5)]},
        grid: {drawOnChartArea: false, drawTicks: true, tickLength: 8, tickColor: '#000', tickWidth: 1.5},
        border: {display: false}
      }
    }
  },
  plugins: [decor]
});
</script>
</body>
</html>
